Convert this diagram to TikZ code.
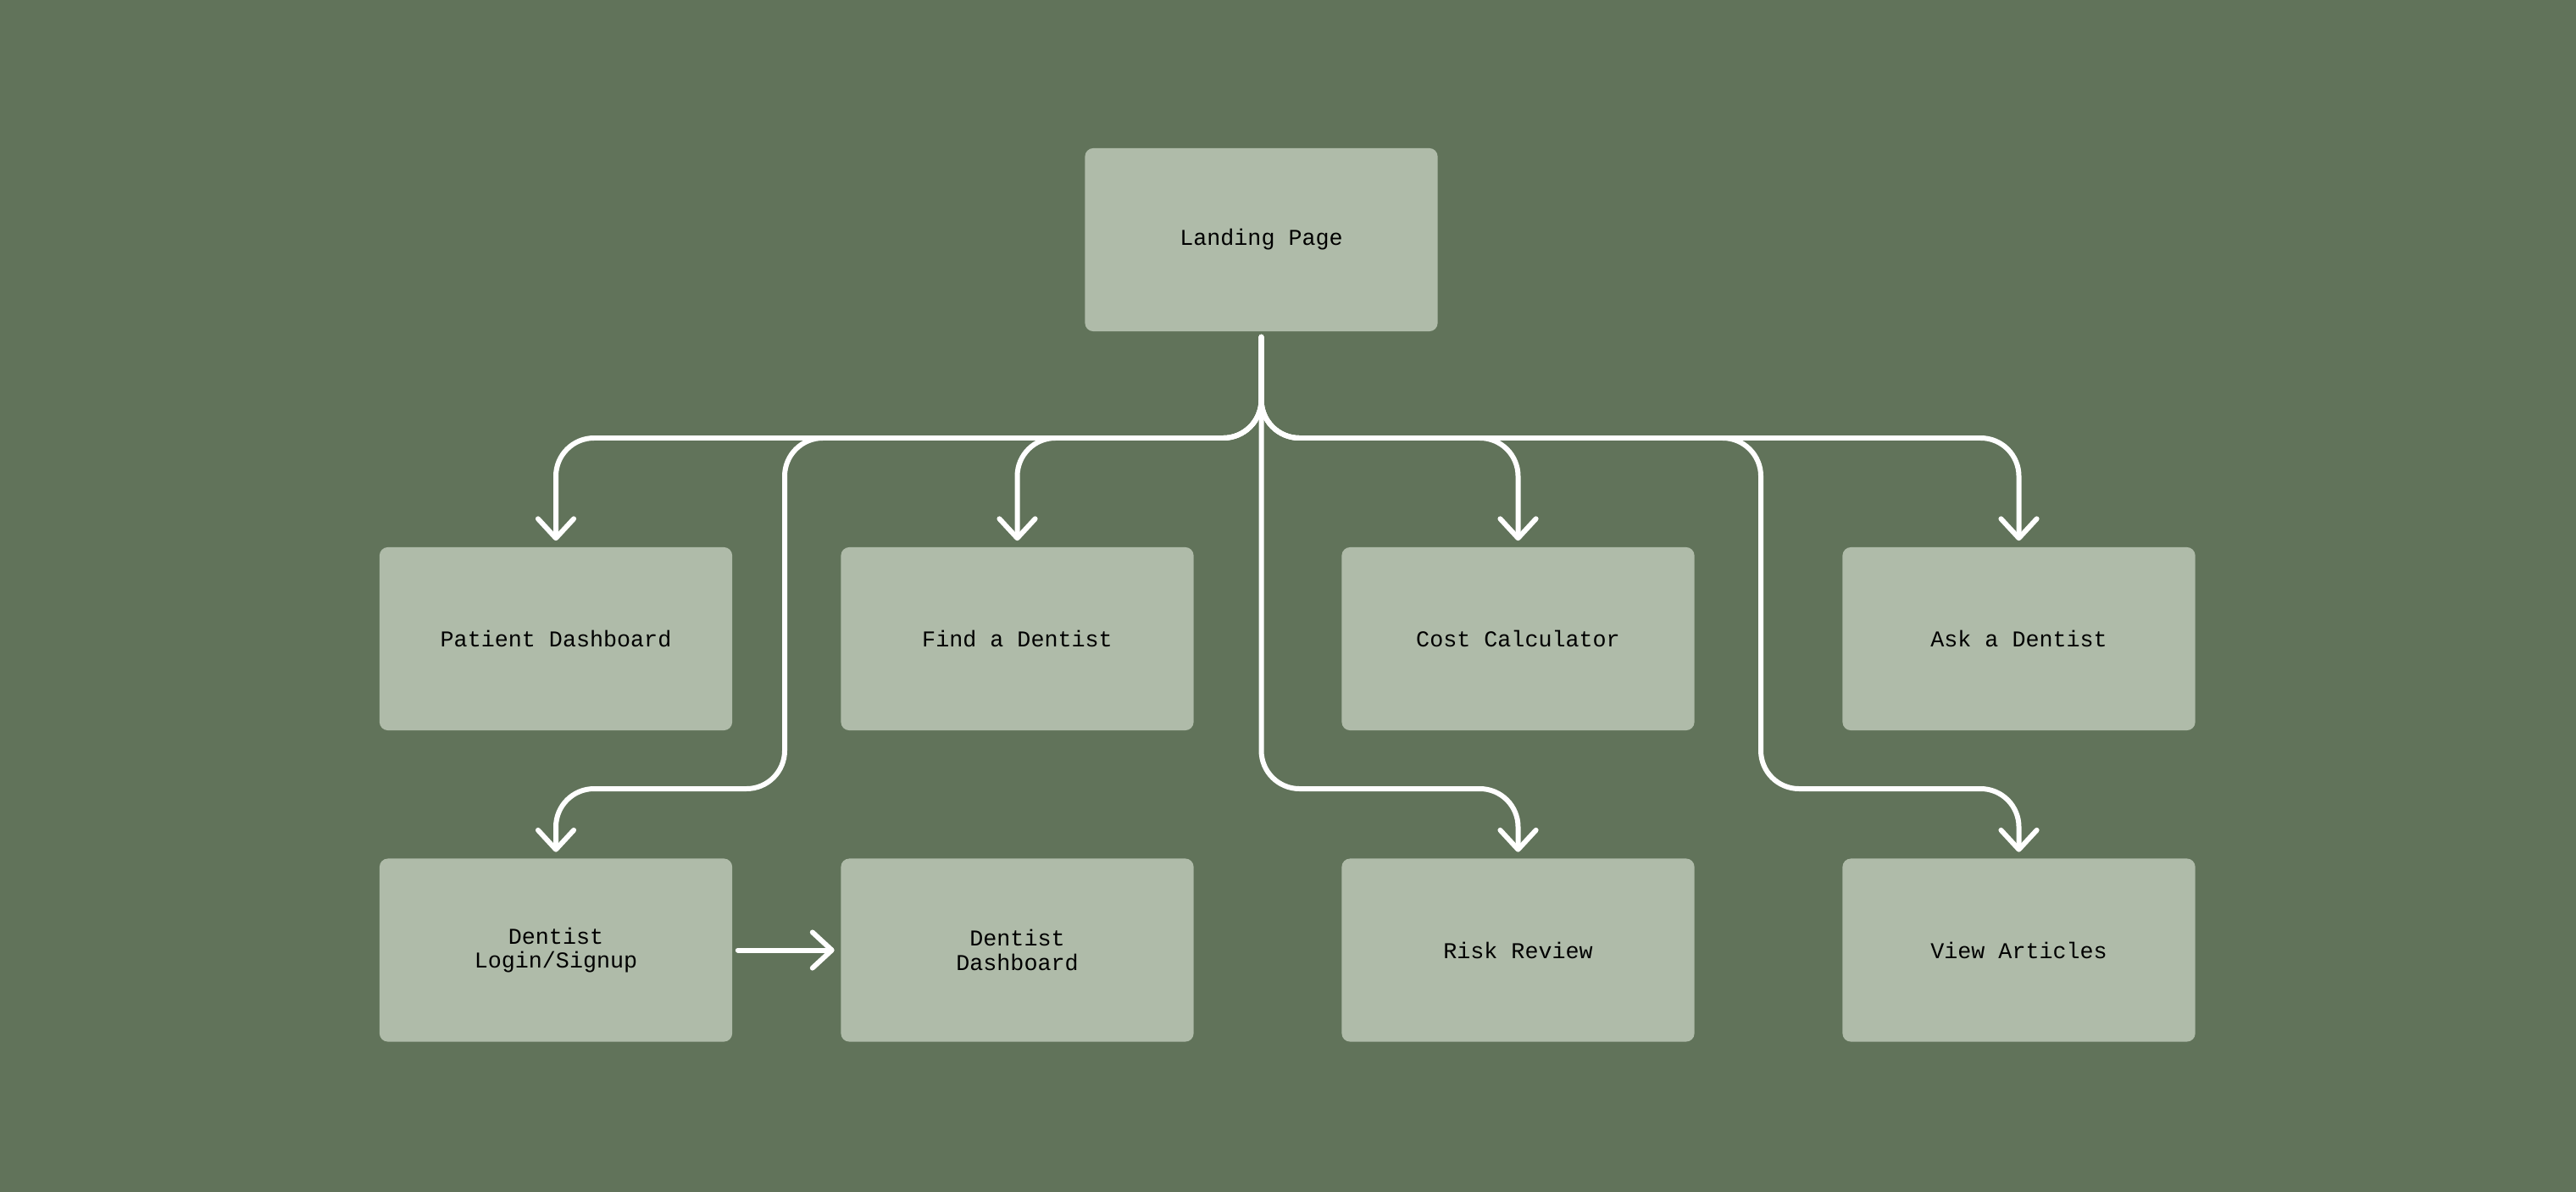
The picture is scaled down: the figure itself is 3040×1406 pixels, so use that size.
\documentclass[tikz,border=0pt]{standalone}
\usepackage{fontspec}
\setmonofont{Liberation Mono}
\usetikzlibrary{calc, arrows.meta}
\usepackage{xcolor}

\definecolor{sage}{RGB}{97,115,90}
\definecolor{boxgreen}{RGB}{175,187,169}

\tikzset{
    page/.style={fill=boxgreen, rounded corners=2.8pt,
        minimum width=4.16cm, minimum height=2.16cm, inner sep=0pt,
        align=center, font=\ttfamily\fontsize{7.6}{8}\selectfont},
    link/.style={draw=white, line width=1.7pt, rounded corners=12.8pt,
        line cap=round, -{Straight Barb[length=6.5pt,width=12pt,round]},
        shorten <=1.7pt, shorten >=2pt}
}

\begin{document}
\begin{tikzpicture}[x=0.01cm, y=-0.01cm]
    \useasboundingbox (0,0) rectangle (3040,1406);
    \fill[sage] (-10,-10) rectangle (3050,1416);

    \node[page] (land)  at (1488.5, 283) {Landing Page};

    \node[page] (pat)   at ( 656,  754) {Patient Dashboard};
    \node[page] (find)  at (1200.5, 754) {Find a Dentist};
    \node[page] (cost)  at (1791.5, 754) {Cost Calculator};
    \node[page] (ask)   at (2382.5, 754) {Ask a Dentist};

    \node[page] (login) at ( 656, 1121.5) {Dentist\\Login/Signup};
    \node[page] (ddash) at (1200.5, 1121.5) {Dentist\\Dashboard};
    \node[page] (risk)  at (1791.5, 1121.5) {Risk Review};
    \node[page] (view)  at (2382.5, 1121.5) {View Articles};

    \path (1488.5, 517) coordinate (bus);
    \path (1488.5, 931) coordinate (lowbus);
    \path ( 926,  517) coordinate (lx);
    \path (2078,  517) coordinate (vx);

    \draw[link] (land.south) -- (bus) -| (pat.north);
    \draw[link] (land.south) -- (bus) -| (find.north);
    \draw[link] (land.south) -- (bus) -| (cost.north);
    \draw[link] (land.south) -- (bus) -| (ask.north);

    \draw[link] (land.south) -- (bus) -- (lx) |- (login.north |- lowbus) -- (login.north);
    \draw[link] (land.south) |- (risk.north |- lowbus) -- (risk.north);
    \draw[link] (land.south) -- (bus) -- (vx) |- (view.north |- lowbus) -- (view.north);

    \draw[link] (login) -- (ddash);
\end{tikzpicture}
\end{document}
